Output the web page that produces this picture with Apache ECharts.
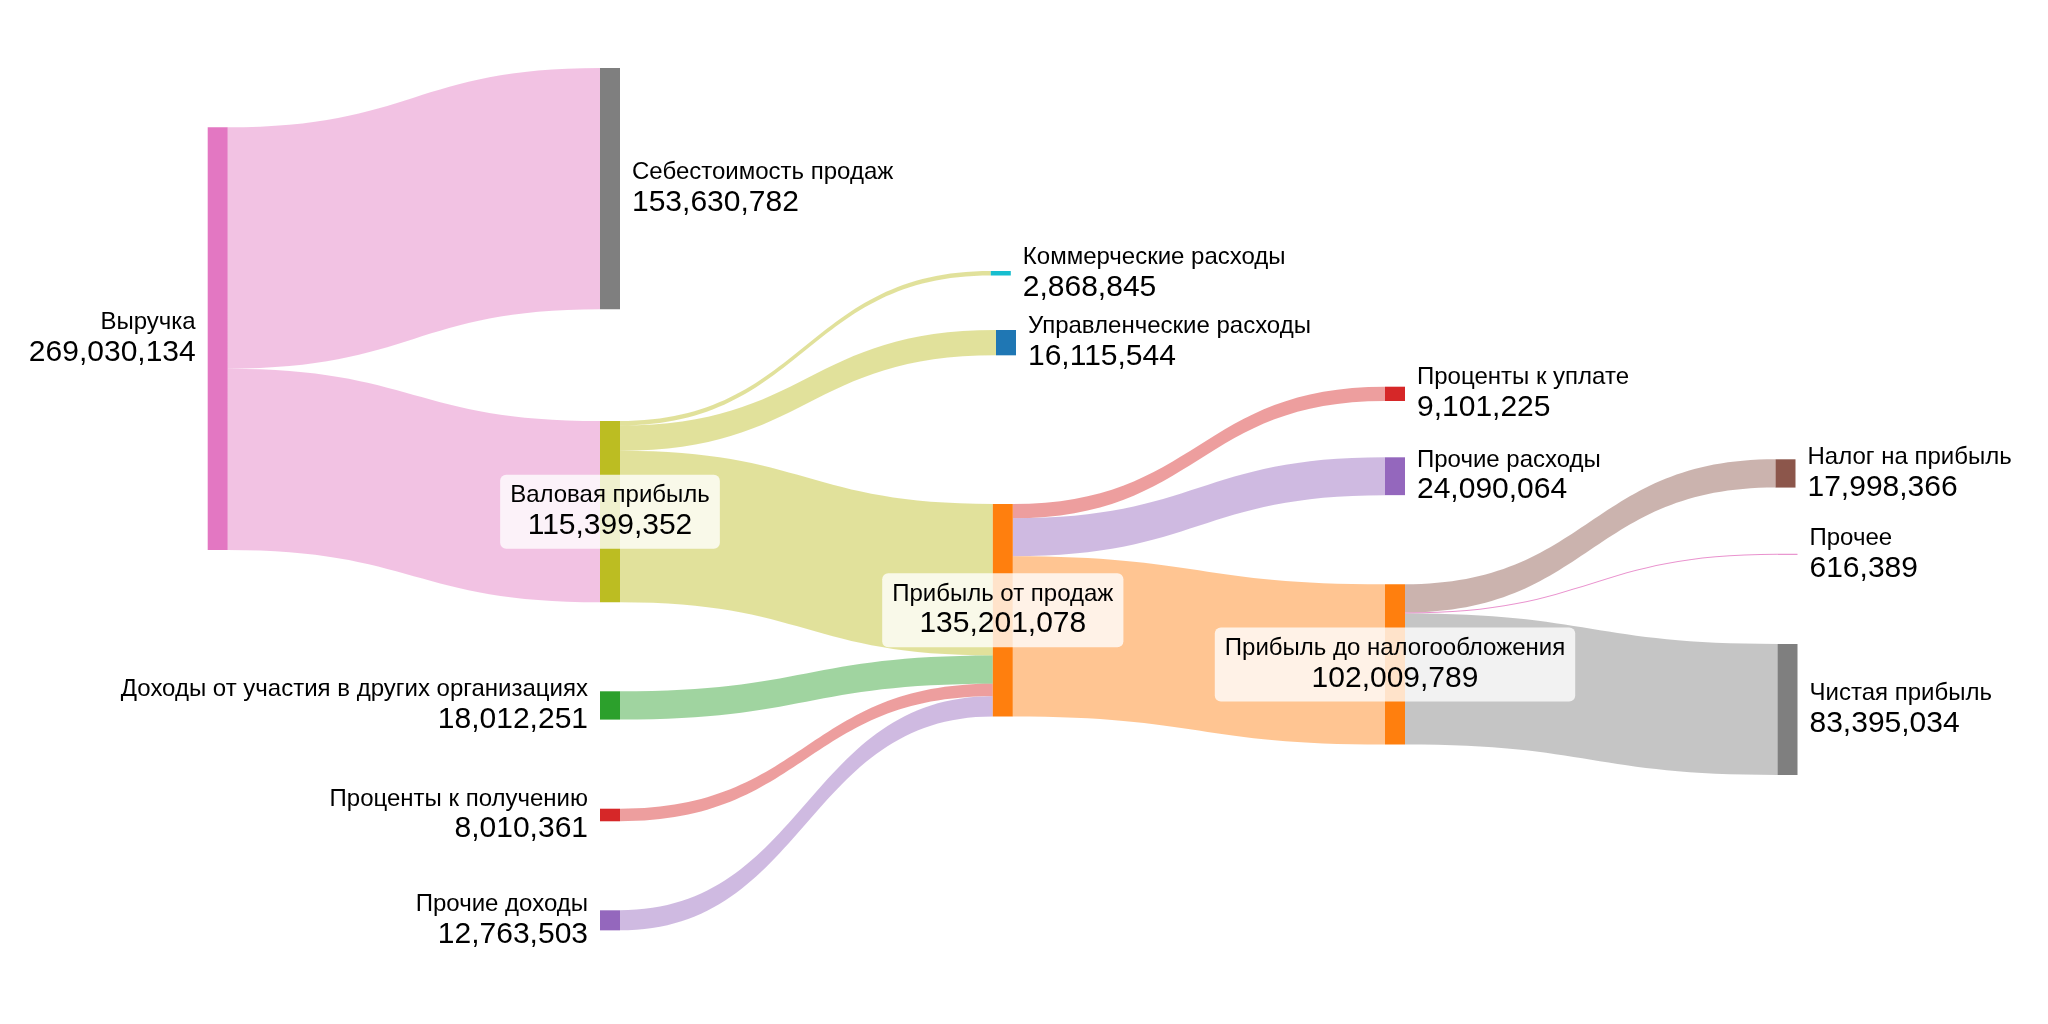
<!DOCTYPE html>
<html><head><meta charset="utf-8">
<script src="https://cdn.jsdelivr.net/npm/echarts@6/dist/echarts.min.js"></script>
<style>html,body{margin:0;padding:0;background:#fff}#c{width:2048px;height:1024px}</style>
</head><body><div id="c"></div>
<script>
// ---- data ----
const nodeNames = [
  'Выручка',
  'Себестоимость продаж',
  'Валовая прибыль',
  'Доходы от участия в других организациях',
  'Проценты к получению',
  'Прочие доходы',
  'Коммерческие расходы',
  'Управленческие расходы',
  'Прибыль от продаж',
  'Проценты к уплате',
  'Прочие расходы',
  'Прибыль до налогообложения',
  'Налог на прибыль',
  'Прочее',
  'Чистая прибыль'
];
const linkSource = [
  'Выручка', 'Выручка',
  'Валовая прибыль', 'Валовая прибыль', 'Валовая прибыль',
  'Доходы от участия в других организациях', 'Проценты к получению', 'Прочие доходы',
  'Прибыль от продаж', 'Прибыль от продаж', 'Прибыль от продаж',
  'Прибыль до налогообложения', 'Прибыль до налогообложения', 'Прибыль до налогообложения'
];
const linkTarget = [
  'Себестоимость продаж', 'Валовая прибыль',
  'Коммерческие расходы', 'Управленческие расходы', 'Прибыль от продаж',
  'Прибыль от продаж', 'Прибыль от продаж', 'Прибыль от продаж',
  'Проценты к уплате', 'Прочие расходы', 'Прибыль до налогообложения',
  'Налог на прибыль', 'Прочее', 'Чистая прибыль'
];
const linkValue = [
  153630782, 115399352,
  2868845, 16115544, 96414963,
  18012251, 8010361, 12763503,
  9101225, 24090064, 102009789,
  17998366, 616389, 83395034
];

// ---- styles / layout ----
const nodeColors = ['#e377c2','#7f7f7f','#bcbd22','#2ca02c','#d62728','#9467bd','#17becf','#1f77b4','#ff7f0e','#d62728','#9467bd','#ff7f0e','#8c564b','#e377c2','#7f7f7f'];
const linkColors = ['#e377c2','#e377c2','#bcbd22','#bcbd22','#bcbd22','#2ca02c','#d62728','#9467bd','#d62728','#9467bd','#ff7f0e','#8c564b','#e377c2','#7f7f7f'];
const linkOpacity = [0.45,0.45,0.45,0.45,0.45,0.45,0.45,0.45,0.45,0.45,0.45,0.45,0.8,0.45];
const labelSide = ['left','right','inside','left','left','left','right','right','inside','right','right','inside','right','right','right'];
// node placement (pixels in a 2048 x 1024 canvas)
const nodePosX = [207.7, 600, 600, 600, 600, 600, 990.8, 996, 992.8, 1385, 1385, 1385, 1775.5, 1777.5, 1777.5];
const nodePosY = [127.3, 68, 421, 691.3, 808.7, 910.3, 271, 330, 504, 386.7, 457.3, 584.3, 459.3, 553.8, 644];

const W = 2048;
const KY = 1.571e-6; // px per unit value
const FONT = '"Liberation Sans", Arial, sans-serif';

// node totals = max(inflow, outflow)
const inSum = {}, outSum = {};
linkValue.forEach((v, i) => {
  outSum[linkSource[i]] = (outSum[linkSource[i]] || 0) + v;
  inSum[linkTarget[i]] = (inSum[linkTarget[i]] || 0) + v;
});
const nodeTotal = nodeNames.map(n => Math.max(inSum[n] || 0, outSum[n] || 0));
// height of layout area so that the tallest column (sources) maps at KY
const srcTotal = nodeNames.filter(n => !inSum[n]).reduce((s, n) => s + outSum[n], 0);
const H = srcTotal * KY;

function fmt(v) { return v.toLocaleString('en-US'); }

function makeLabel(i) {
  const side = labelSide[i];
  const al = side === 'left' ? 'right' : side === 'right' ? 'left' : 'center';
  const lbl = {
    show: true,
    position: side,
    distance: 12,
    formatter: () => '{n|' + nodeNames[i] + '}\n{v|' + fmt(nodeTotal[i]) + '}',
    rich: {
      n: { fontSize: 24, lineHeight: 28, fontFamily: FONT, color: '#000', align: al },
      v: { fontSize: 30, lineHeight: 32, fontFamily: FONT, color: '#000', align: al }
    }
  };
  if (side === 'inside') {
    Object.assign(lbl, { backgroundColor: 'rgba(255,255,255,0.78)', borderRadius: 6, padding: [7, 10] });
  }
  return lbl;
}

const chart = echarts.init(document.getElementById('c'), null, { renderer: 'canvas' });
chart.setOption({
  backgroundColor: '#fff',
  animation: false,
  series: [{
    type: 'sankey',
    left: 0, top: 0, width: W, height: H,
    nodeWidth: 20,
    nodeGap: 0,
    nodeAlign: 'left',
    layoutIterations: 0,
    draggable: false,
    emphasis: { disabled: true },
    lineStyle: { curveness: 0.5, opacity: 0.45 },
    data: nodeNames.map((n, i) => ({
      name: n,
      localX: nodePosX[i] / W,
      localY: nodePosY[i] / H,
      itemStyle: { color: nodeColors[i], borderWidth: 0 },
      label: makeLabel(i)
    })),
    links: linkValue.map((v, i) => ({
      source: linkSource[i],
      target: linkTarget[i],
      value: v,
      lineStyle: { color: linkColors[i], opacity: linkOpacity[i] }
    }))
  }]
});
</script>
</body></html>
